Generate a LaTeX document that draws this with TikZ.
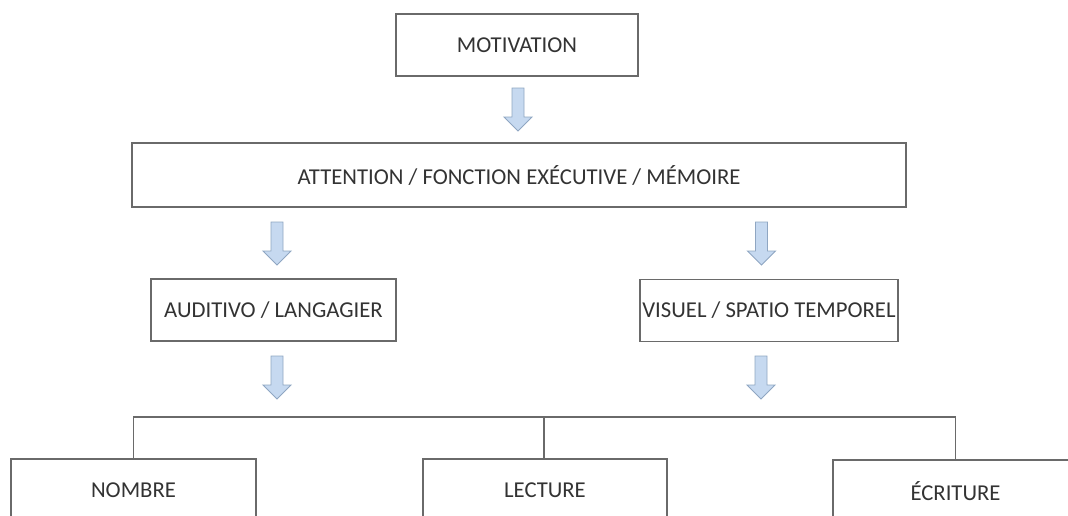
\documentclass[tikz,border=0pt]{standalone}
\usepackage{fontspec}
\setmainfont{Carlito}
\definecolor{boxline}{HTML}{6A6A6A}
\definecolor{txt}{HTML}{333333}
\definecolor{arrfill}{HTML}{C6D9F0}
\definecolor{arrline}{HTML}{8FA6C2}
\begin{document}
\begin{tikzpicture}[x=1pt,y=-1pt,
  box/.style={draw=boxline, line width=1.1pt, fill=white, inner sep=0pt,
    minimum height=62pt, text=txt, font=\fontsize{22.7}{24}\selectfont},
  conn/.style={draw=boxline, line width=1.1pt},
  darr/.pic={\path[fill=arrfill, draw=arrline, line width=0.9pt, line join=miter]
     (-6,0) -- (6,0) -- (6,29) -- (14,29) -- (0,43) -- (-14,29) -- (-6,29) -- cycle;}]
\useasboundingbox (0,0) rectangle (1068,515);
\clip (0,0) rectangle (1068,515);
\node[box, minimum width=242pt] (mot) at (517,45) {MOTIVATION};
\node[box, minimum width=774pt, minimum height=64pt] (att) at (519,175) {ATTENTION / FONCTION EXÉCUTIVE / MÉMOIRE};
\node[box, minimum width=245pt] (aud) at (273.5,310) {AUDITIVO / LANGAGIER};
\node[box, minimum width=258pt] (vis) at (769,310.5) {VISUEL / SPATIO TEMPOREL};
\node[box, minimum width=245pt] (nom) at (133.5,490) {NOMBRE};
\node[box, minimum width=244pt] (lec) at (545,490) {LECTURE};
\node[box, minimum width=245pt] (ecr) at (955.5,491) {ÉCRITURE};
\pic at (518,88) {darr};
\pic at (277,222) {darr};
\pic at (761.5,222) {darr};
\pic at (277,356) {darr};
\pic at (761,356) {darr};
\coordinate (bar) at (544,417);
\draw[conn] (nom.north) |- (bar) -| (ecr.north);
\draw[conn] (bar) -- (lec.north -| bar);
\end{tikzpicture}
\end{document}
